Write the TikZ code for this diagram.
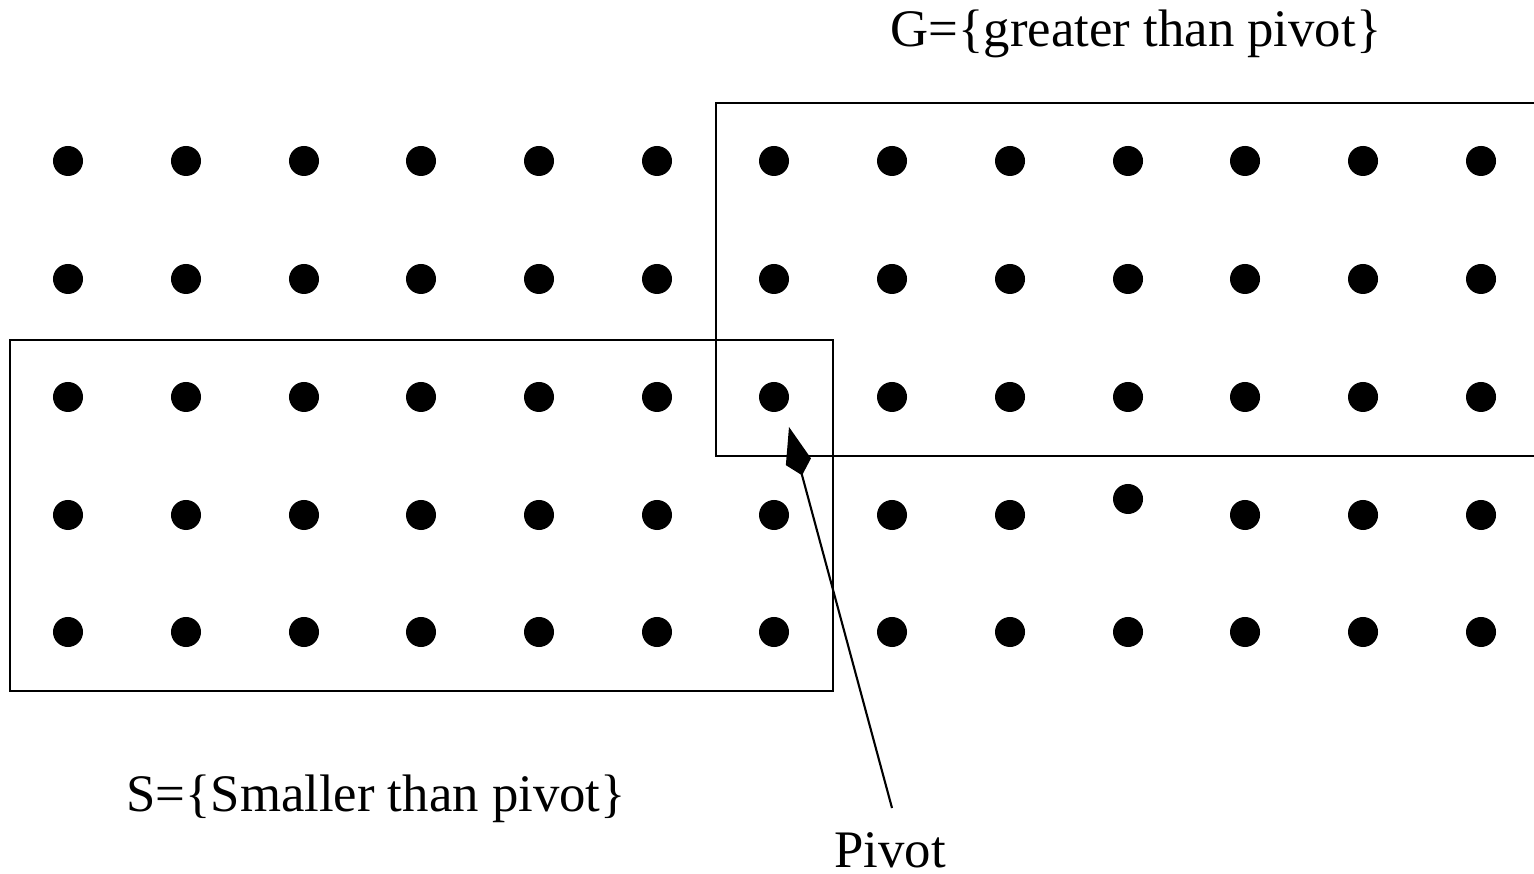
\documentclass[tikz,border=0pt]{standalone}
\usepackage{fontspec}
\setmainfont{Liberation Serif}
\usetikzlibrary{arrows.meta}
\tikzset{
  dot/.style={circle,fill=black,inner sep=0pt,minimum size=0.3cm},
  setbox/.style={draw=black,line width=0.5pt},
  lbl/.style={font=\fontsize{15}{18}\selectfont,anchor=base,inner sep=0pt},
  pointer/.style={line width=0.6pt,-{Kite[length=0.5cm,width=0.26cm,inset=0.14cm]}}
}
\begin{document}
\begin{tikzpicture}[x=0.01cm,y=-0.01cm]
\useasboundingbox (0,0) rectangle (1534,874);
\clip (0,0) rectangle (1534,874);
\fill[white] (0,0) rectangle (1534,874);
% dots
\foreach \r/\yy in {1/161,2/279,3/397,4/515,5/632}{
  \foreach \c/\xx in {1/68,2/186,3/304,4/421,5/539,6/657,7/774,8/892,9/1010,10/1128,11/1245,12/1363,13/1481}{
    \ifnum\r=4 \ifnum\c=10 \def\yy{499}\fi\fi
    \node[dot] (d-\r-\c) at (\xx,\yy) {};
  }
}
% boxes
\draw[setbox] (10,340) rectangle (833,691);
\draw[setbox] (716,103) rectangle (1560,456);
% labels
\node[lbl] (glabel) at (1136,47) {G=\{greater than pivot\}};
\node[lbl] (slabel) at (376,812) {S=\{Smaller than pivot\}};
\node[lbl] (pivot) at (890,868) {Pivot};
% pointer
\coordinate (pstart) at (892,808);
\coordinate (ptip) at (789,427);
\draw[pointer] (pstart) -- (ptip);
\end{tikzpicture}
\end{document}
